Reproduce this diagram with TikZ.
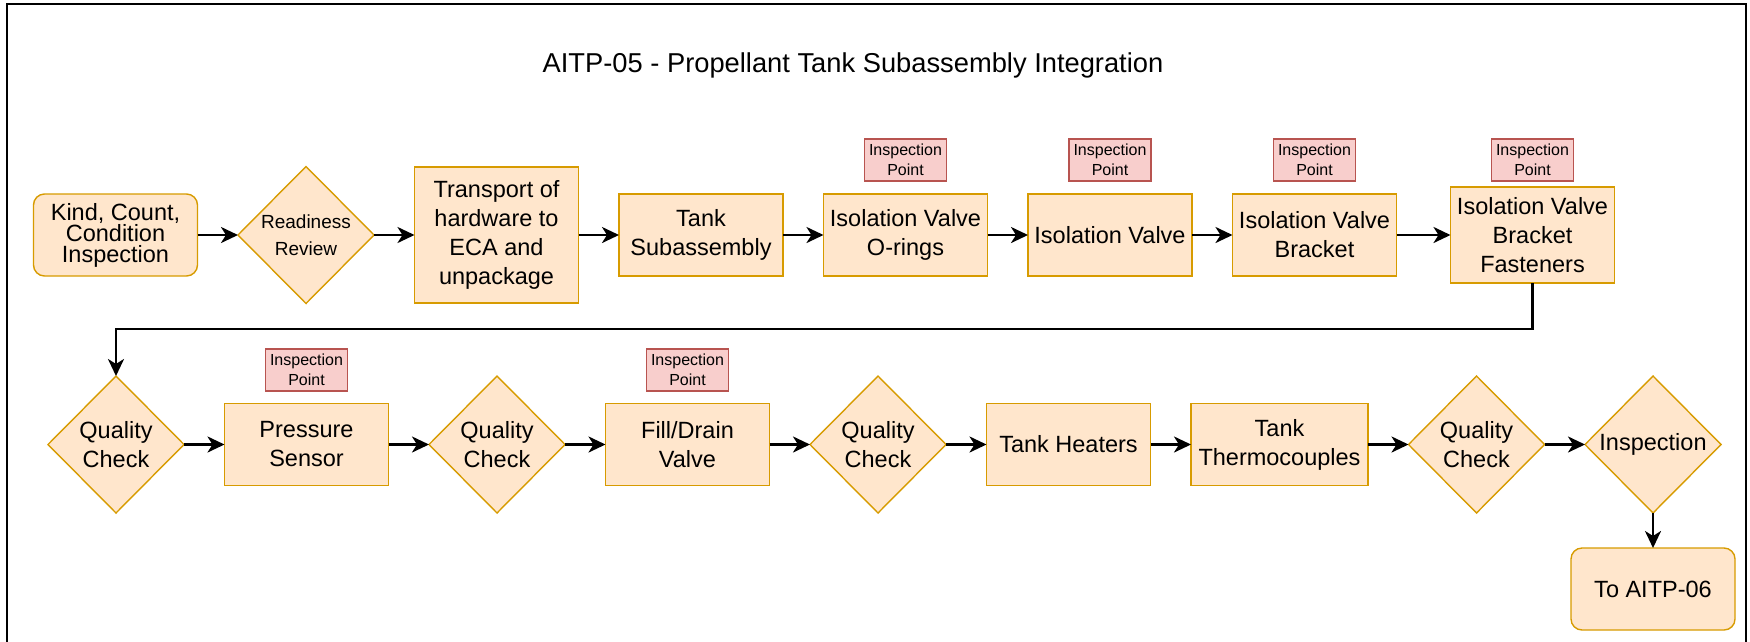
\documentclass[tikz,border=0pt]{standalone}
\usepackage{fontspec}
\setsansfont{Liberation Sans}
\usetikzlibrary{arrows.meta,positioning,shapes.geometric}

\definecolor{taskfill}{HTML}{FFE6CC}
\definecolor{taskline}{HTML}{D79B00}
\definecolor{ipfill}{HTML}{F8CECC}
\definecolor{ipline}{HTML}{B85450}

\begin{document}
\begin{tikzpicture}[
  x=1pt, y=-1pt,
  font=\sffamily\fontsize{23.5}{29}\selectfont,
  >={Stealth[length=17pt,width=16pt,inset=5pt]},
  task/.style={draw=taskline, fill=taskfill, line width=1.4pt, align=center, minimum width=164pt, minimum height=82pt, inner sep=0pt, outer sep=0pt},
  terminal/.style={task, rounded corners=11pt},
  decision/.style={draw=taskline, fill=taskfill, line width=1.4pt, diamond, aspect=1, align=center, minimum width=136pt, minimum height=137pt, inner sep=0pt, outer sep=0pt},
  ipoint/.style={draw=ipline, fill=ipfill, line width=1.4pt, align=center, minimum width=82pt, minimum height=42pt, inner sep=0pt, outer sep=0pt, font=\sffamily\fontsize{16}{19.5}\selectfont},
  flow/.style={->, line width=2.7pt},
  node distance=40.5pt
]

\useasboundingbox (0,0) rectangle (1750,641);
\draw[line width=2.4pt] (7,660) -- (7,4) -- (1746,4) -- (1746,660);

\node[anchor=base, font=\sffamily\fontsize{27.3}{32}\selectfont] (title) at (853,72) {AITP-05 - Propellant Tank Subassembly Integration};

\node[terminal, font=\sffamily\fontsize{23.5}{21}\selectfont] (kind) at (115.5,235) {Kind, Count,\\Condition\\Inspection};
\node[decision, right=of kind, font=\sffamily\fontsize{19}{27}\selectfont, inner sep=-4pt] (ready) {Readiness\\Review};
\node[task, right=of ready, minimum height=136pt] (transport) {Transport of\\hardware to\\ECA and\\unpackage};
\node[task, right=of transport] (tanksub) {Tank\\Subassembly};
\node[task, right=of tanksub] (orings) {Isolation Valve\\O-rings};
\node[task, right=of orings] (isov) {Isolation Valve};
\node[task, right=of isov] (bracket) {Isolation Valve\\Bracket};
\node[task, right=54pt of bracket, minimum height=96pt] (fasteners) {Isolation Valve\\Bracket\\Fasteners};

\node[ipoint, above=13pt of orings] (iporings) {Inspection\\Point};
\node[ipoint, above=13pt of isov] (ipisov) {Inspection\\Point};
\node[ipoint, above=13pt of bracket] (ipbracket) {Inspection\\Point};
\node[ipoint, above=6pt of fasteners] (ipfasteners) {Inspection\\Point};

\node[decision] (qcA) at (116,444.5) {Quality\\Check};
\node[task, right=of qcA] (pressure) {Pressure\\Sensor};
\node[decision, right=of pressure] (qcB) {Quality\\Check};
\node[task, right=of qcB] (filldrain) {Fill/Drain\\Valve};
\node[decision, right=of filldrain] (qcC) {Quality\\Check};
\node[task, right=of qcC] (heaters) {Tank Heaters};
\node[task, right=of heaters, minimum width=177pt] (thermo) {Tank\\Thermocouples};
\node[decision, right=of thermo] (qcD) {Quality\\Check};
\node[decision, right=of qcD] (inspect) {Inspection};
\node[terminal, below=35pt of inspect] (next) {To AITP-06};

\node[ipoint, above=12.5pt of pressure] (ippressure) {Inspection\\Point};
\node[ipoint, above=12.5pt of filldrain] (ipfilldrain) {Inspection\\Point};

\draw[flow] (kind) -- (ready);
\draw[flow] (ready) -- (transport);
\draw[flow] (transport) -- (tanksub);
\draw[flow] (tanksub) -- (orings);
\draw[flow] (orings) -- (isov);
\draw[flow] (isov) -- (bracket);
\draw[flow] (bracket) -- (fasteners);
\draw[flow] (fasteners.south) |- (qcA.north |- 0,329) -- (qcA.north);
\draw[flow] (qcA) -- (pressure);
\draw[flow] (pressure) -- (qcB);
\draw[flow] (qcB) -- (filldrain);
\draw[flow] (filldrain) -- (qcC);
\draw[flow] (qcC) -- (heaters);
\draw[flow] (heaters) -- (thermo);
\draw[flow] (thermo) -- (qcD);
\draw[flow] (qcD) -- (inspect);
\draw[flow] (inspect) -- (next);

\end{tikzpicture}
\end{document}
